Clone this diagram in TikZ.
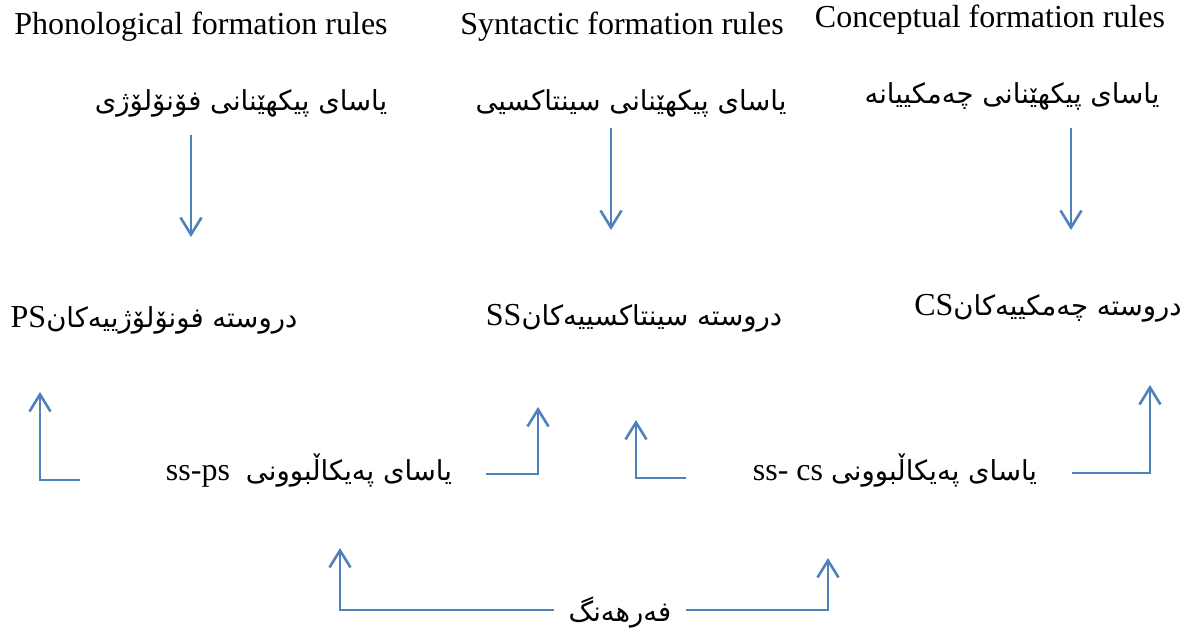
\documentclass[tikz,border=0pt]{standalone}
\usepackage{fontspec}
\setmainfont{Liberation Serif}
\newfontfamily\arabicfont[Script=Arabic]{DejaVu Sans}
\TeXXeTstate=1
\usetikzlibrary{arrows.meta}
\definecolor{lineblue}{HTML}{4F81BD}
\tikzset{
  lat/.style={font=\fontsize{32}{36}\selectfont, inner sep=0pt},
  ar/.style={font=\fontsize{27.5}{32}\arabicfont, inner sep=0pt},
  conn/.style={draw=lineblue, line width=2.6pt, -{Straight Barb[length=17pt,width=21pt,line width=2.6pt]}},
}
\newcommand{\lt}[1]{{\rmfamily\fontsize{32}{36}\selectfont #1}}
\begin{document}
\begin{tikzpicture}[x=1pt,y=-1pt]
\fill[white] (0,0) rectangle (1191,629);
\useasboundingbox (0,0) rectangle (1191,629);
% headers
\node[lat] (h1) at (201,27) {Phonological formation rules};
\node[lat] (h2) at (622,27) {Syntactic formation rules};
\node[lat] (h3) at (990,20) {Conceptual formation rules};
% row 1
\node[ar] (r1a) at (241,103) {\beginR یاسای پیکهێنانی فۆنۆلۆژی\endR};
\node[ar] (r1b) at (631,103) {\beginR یاسای پیکهێنانی سینتاکسیی\endR};
\node[ar] (r1c) at (1012,96) {\beginR یاسای پیکهێنانی چەمکییانە\endR};
% row 2
\node[ar] (r2a) at (154,320) {\beginR دروسته فونۆلۆژییەکان\beginL\lt{PS}\endL\endR};
\node[ar] (r2b) at (634,318) {\beginR دروسته سینتاکسییەکان\beginL\lt{SS}\endL\endR};
\node[ar] (r2c) at (1048,308) {\beginR دروسته چەمکییەکان\beginL\lt{CS}\endL\endR};
% row 3
\node[ar] (r3a) at (309,471) {\beginR یاسای پەیکاڵبوونی\lt{\ \ }\beginL\lt{ss-ps}\endL\endR};
\node[ar] (r3b) at (895,471) {\beginR یاسای پەیکاڵبوونی\lt{\ }\beginL\lt{ss- cs}\endL\endR};
% bottom
\node[ar] (lex) at (620,613) {\beginR فەرهەنگ\endR};
% arrow coordinates
\coordinate (d1s) at (191,135); \coordinate (d1e) at (191,237);
\coordinate (d2s) at (611,128); \coordinate (d2e) at (611,230);
\coordinate (d3s) at (1071,128); \coordinate (d3e) at (1071,230);
\coordinate (a1s) at (80,480); \coordinate (a1c) at (40,480); \coordinate (a1e) at (40,392);
\coordinate (a2s) at (486,474); \coordinate (a2c) at (538,474); \coordinate (a2e) at (538,407);
\coordinate (a3s) at (686,478); \coordinate (a3c) at (636,478); \coordinate (a3e) at (636,420);
\coordinate (a4s) at (1072,473); \coordinate (a4c) at (1150,473); \coordinate (a4e) at (1150,385);
\coordinate (b1s) at (554,610); \coordinate (b1c) at (340,610); \coordinate (b1e) at (340,548);
\coordinate (b2s) at (686,610); \coordinate (b2c) at (828,610); \coordinate (b2e) at (828,558);
% connectors
\draw[conn] (d1s) -- (d1e);
\draw[conn] (d2s) -- (d2e);
\draw[conn] (d3s) -- (d3e);
\draw[conn] (a1s) -- (a1c) -- (a1e);
\draw[conn] (a2s) -- (a2c) -- (a2e);
\draw[conn] (a3s) -- (a3c) -- (a3e);
\draw[conn] (a4s) -- (a4c) -- (a4e);
\draw[conn] (b1s) -- (b1c) -- (b1e);
\draw[conn] (b2s) -- (b2c) -- (b2e);
\end{tikzpicture}
\end{document}
